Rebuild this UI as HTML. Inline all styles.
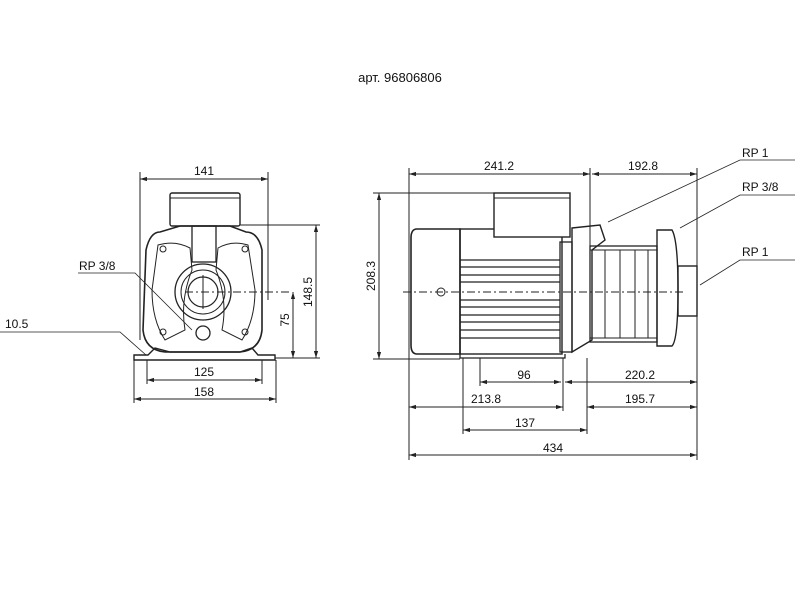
<!DOCTYPE html>
<html><head><meta charset="utf-8"><style>
body{margin:0;background:#fff}
svg{display:block}
text{font-family:"Liberation Sans",Arial,sans-serif;font-size:12px;fill:#111}
</style></head><body>
<svg width="800" height="600" viewBox="0 0 800 600" xmlns="http://www.w3.org/2000/svg">
<defs>
<marker id="a" viewBox="0 0 10 10" refX="10" refY="5" markerWidth="7" markerHeight="7" orient="auto-start-reverse"><path d="M0,2 L10,5 L0,8z" fill="#222"/></marker>
</defs>
<text x="400" y="82" text-anchor="middle" style="font-size:13px">арт. 96806806</text>

<g stroke="#222" stroke-width="1" fill="none">
<!-- LEFT VIEW -->
<line x1="140" y1="179" x2="268" y2="179" marker-start="url(#a)" marker-end="url(#a)"/>
<line x1="140" y1="172" x2="140" y2="340"/><line x1="268" y1="172" x2="268" y2="300"/>
<rect x="170" y="193" width="70" height="33" rx="2" stroke-width="1.4"/>
<line x1="170" y1="198" x2="240" y2="198"/>
<path d="M160,232 Q150,232 146,250 L143,330 Q145,350 165,352 L240,352 Q260,350 262,330 L262,250 Q258,232 246,232 L230,226 L180,226 Z" stroke-width="1.6"/>
<path d="M158,245 Q175,240 190,248 L192,270 Q180,300 185,330 L165,340 Q152,320 152,290 Z"/>
<path d="M248,245 Q232,240 218,248 L216,270 Q228,300 222,330 L242,340 Q255,320 255,290 Z"/>
<rect x="192" y="226" width="24" height="36" stroke-width="1.3"/>
<circle cx="203" cy="292" r="28" stroke-width="1.3"/>
<circle cx="203" cy="292" r="22"/>
<circle cx="203" cy="292" r="15" stroke-width="1.2"/>
<circle cx="203" cy="333" r="7" stroke-width="1.3"/>
<circle cx="163" cy="249" r="3"/><circle cx="245" cy="249" r="3"/>
<circle cx="163" cy="332" r="3"/><circle cx="245" cy="332" r="3"/>
<line x1="185" y1="292" x2="290" y2="292" stroke-dasharray="8,3,2,3"/>
<line x1="203" y1="275" x2="203" y2="309"/>
<line x1="240" y1="225" x2="320" y2="225"/>
<path d="M134,360 L134,355 L148,355 L155,348 L170,352 L240,352 L252,348 L258,355 L275,355 L275,360 Z" stroke-width="1.4"/>
<line x1="275" y1="358" x2="320" y2="358"/>
<line x1="316" y1="225" x2="316" y2="358" marker-start="url(#a)" marker-end="url(#a)"/>
<line x1="293" y1="292" x2="293" y2="358" marker-start="url(#a)" marker-end="url(#a)"/>
<line x1="147" y1="360" x2="147" y2="384"/><line x1="262" y1="360" x2="262" y2="384"/>
<line x1="134" y1="360" x2="134" y2="403"/><line x1="276" y1="360" x2="276" y2="403"/>
<line x1="147" y1="380" x2="262" y2="380" marker-start="url(#a)" marker-end="url(#a)"/>
<line x1="134" y1="399" x2="276" y2="399" marker-start="url(#a)" marker-end="url(#a)"/>
<polyline points="78,273 135,273 192,330" stroke-width="0.8"/>
<polyline points="0,332 120,332 146,355" stroke-width="0.8"/>

<!-- RIGHT VIEW -->
<line x1="409" y1="174" x2="590" y2="174" marker-start="url(#a)" marker-end="url(#a)"/>
<line x1="592" y1="174" x2="697" y2="174" marker-start="url(#a)" marker-end="url(#a)"/>
<line x1="409" y1="168" x2="409" y2="460"/><line x1="697" y1="168" x2="697" y2="460"/>
<line x1="590" y1="168" x2="590" y2="250"/>
<line x1="379" y1="193" x2="379" y2="359" marker-start="url(#a)" marker-end="url(#a)"/>
<line x1="373" y1="193" x2="494" y2="193"/><line x1="373" y1="359" x2="460" y2="359"/>
<path d="M417,229 L460,229 L460,354 L417,354 Q411,354 411,345 L411,238 Q411,229 417,229 Z" stroke-width="1.6"/>
<rect x="460" y="229" width="102" height="125" stroke-width="1.4"/>
<rect x="494" y="193" width="76" height="44" fill="#fff" stroke-width="1.4"/>
<line x1="494" y1="198" x2="570" y2="198"/>
<g stroke-width="1.2">
<line x1="460" y1="260" x2="560" y2="260"/><line x1="460" y1="267" x2="560" y2="267"/>
<line x1="460" y1="275" x2="560" y2="275"/><line x1="460" y1="282" x2="560" y2="282"/>
<line x1="460" y1="300" x2="560" y2="300"/><line x1="460" y1="307" x2="560" y2="307"/>
<line x1="460" y1="315" x2="560" y2="315"/><line x1="460" y1="322" x2="560" y2="322"/>
<line x1="460" y1="330" x2="560" y2="330"/><line x1="460" y1="338" x2="560" y2="338"/>
</g>
<rect x="560" y="242" width="12" height="110" stroke-width="1.3"/>
<path d="M572,228 L600,225 L605,240 L592,250 L592,340 L572,352 Z" stroke-width="1.4"/>
<rect x="590" y="246" width="67" height="96" stroke-width="1.3"/>
<line x1="590" y1="250" x2="657" y2="250"/><line x1="590" y1="338" x2="657" y2="338"/>
<line x1="605" y1="250" x2="605" y2="338"/><line x1="620" y1="250" x2="620" y2="338"/>
<line x1="635" y1="250" x2="635" y2="338"/><line x1="648" y1="250" x2="648" y2="338"/>
<path d="M657,230 L672,230 Q678,240 678,290 Q678,340 672,346 L657,346 Z" stroke-width="1.4"/>
<rect x="678" y="266" width="19" height="50" stroke-width="1.4"/>
<circle cx="441" cy="292" r="4"/>
<line x1="403" y1="292" x2="685" y2="292" stroke-dasharray="8,3,2,3"/>
<path d="M460,354 L460,358 L565,358 L565,354" stroke-width="1.3"/>
<line x1="463" y1="358" x2="463" y2="434"/><line x1="480" y1="358" x2="480" y2="386"/>
<line x1="563" y1="358" x2="563" y2="411"/><line x1="587" y1="358" x2="587" y2="434"/>
<line x1="480" y1="382" x2="561" y2="382" marker-start="url(#a)" marker-end="url(#a)"/>
<line x1="565" y1="382" x2="697" y2="382" marker-start="url(#a)" marker-end="url(#a)"/>
<line x1="409" y1="407" x2="563" y2="407" marker-start="url(#a)" marker-end="url(#a)"/>
<line x1="587" y1="407" x2="697" y2="407" marker-start="url(#a)" marker-end="url(#a)"/>
<line x1="463" y1="430" x2="587" y2="430" marker-start="url(#a)" marker-end="url(#a)"/>
<line x1="409" y1="455" x2="697" y2="455" marker-start="url(#a)" marker-end="url(#a)"/>
<polyline points="608,222 740,160 795,160" stroke-width="0.8"/>
<polyline points="680,228 740,195 795,195" stroke-width="0.8"/>
<polyline points="700,285 740,260 795,260" stroke-width="0.8"/>
</g>

<text x="204" y="175" text-anchor="middle">141</text>
<text x="79" y="270">RP 3/8</text>
<text x="5" y="328">10.5</text>
<text x="204" y="376" text-anchor="middle">125</text>
<text x="204" y="396" text-anchor="middle">158</text>
<text transform="translate(289,320) rotate(-90)" text-anchor="middle">75</text>
<text transform="translate(312,292) rotate(-90)" text-anchor="middle">148.5</text>
<text transform="translate(375,276) rotate(-90)" text-anchor="middle">208.3</text>
<text x="499" y="170" text-anchor="middle">241.2</text>
<text x="643" y="170" text-anchor="middle">192.8</text>
<text x="742" y="157">RP 1</text>
<text x="742" y="191">RP 3/8</text>
<text x="742" y="256">RP 1</text>
<text x="524" y="379" text-anchor="middle">96</text>
<text x="640" y="379" text-anchor="middle">220.2</text>
<text x="486" y="403" text-anchor="middle">213.8</text>
<text x="640" y="403" text-anchor="middle">195.7</text>
<text x="525" y="427" text-anchor="middle">137</text>
<text x="553" y="452" text-anchor="middle">434</text>
</svg>
</body></html>
